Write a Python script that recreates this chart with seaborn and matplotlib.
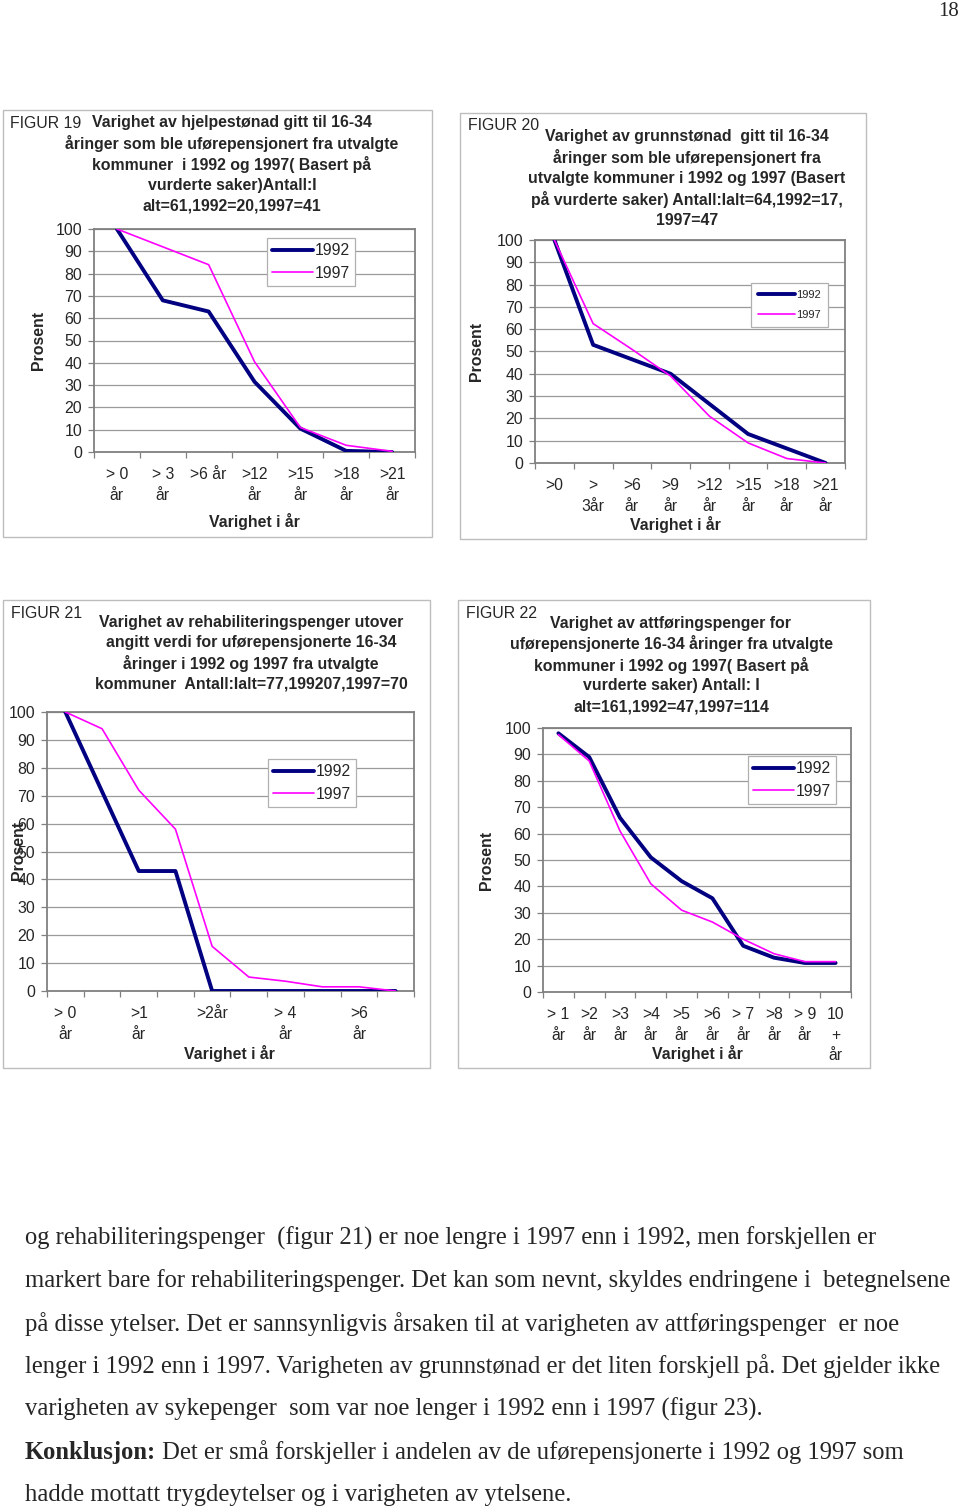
import matplotlib
matplotlib.use("Agg")
import matplotlib.pyplot as plt
from matplotlib.patches import Rectangle
import seaborn as sns
import pandas as pd

sns.set_theme(style="white")
plt.rcParams['font.family'] = ['Liberation Sans', 'DejaVu Sans']

W, H = 960, 1511

# ---------------- data ----------------
fig19_labels = ["> 0\når", "> 3\når", ">6 år", ">12\når", ">15\når", ">18\når", ">21\når"]
fig19_1992 = [100, 68, 63, 31.5, 10.5, 0.5, 0]
fig19_1997 = [100, 92, 84, 40.5, 11, 3, 0.3]

fig20_labels = [">0", ">\n3år", ">6\når", ">9\når", ">12\når", ">15\når", ">18\når", ">21\når"]
fig20_1992 = [100, 53, 46.5, 40, 26.5, 13, 6.5, 0]
fig20_1997 = [100, 62.5, 51, 39, 21, 9, 2, 0]

fig21_labels = ["> 0\når", "", ">1\når", "", ">2år", "", "> 4\når", "", ">6\når", ""]
fig21_1992 = [100, 71.5, 43, 43, 0, 0, 0, 0, 0, 0]
fig21_1997 = [100, 94, 72, 58, 16, 5, 3.5, 1.5, 1.5, 0]

fig22_labels = ["> 1\når", ">2\når", ">3\når", ">4\når", ">5\når", ">6\når", "> 7\når", ">8\når", "> 9\når", "10\n+\når"]
fig22_1992 = [98, 89, 66, 51, 42, 35.5, 17.5, 13, 11, 11]
fig22_1997 = [97.5, 87.5, 61, 41, 31, 26.5, 20, 14.5, 11.5, 11.5]

series_names = ["1992", "1997"]

fig19_title = ["Varighet av hjelpestønad gitt til 16-34",
               "åringer som ble uførepensjonert fra utvalgte",
               "kommuner  i 1992 og 1997( Basert på",
               "vurderte saker)Antall:I",
               "alt=61,1992=20,1997=41"]
fig20_title = ["Varighet av grunnstønad  gitt til 16-34",
               "åringer som ble uførepensjonert fra",
               "utvalgte kommuner i 1992 og 1997 (Basert",
               "på vurderte saker) Antall:Ialt=64,1992=17,",
               "1997=47"]
fig21_title = ["Varighet av rehabiliteringspenger utover",
               "angitt verdi for uførepensjonerte 16-34",
               "åringer i 1992 og 1997 fra utvalgte",
               "kommuner  Antall:Ialt=77,199207,1997=70"]
fig22_title = ["Varighet av attføringspenger for",
               "uførepensjonerte 16-34 åringer fra utvalgte",
               "kommuner i 1992 og 1997( Basert på",
               "vurderte saker) Antall: I",
               "alt=161,1992=47,1997=114"]

body_lines = [
    "og rehabiliteringspenger  (figur 21) er noe lengre i 1997 enn i 1992, men forskjellen er",
    "markert bare for rehabiliteringspenger. Det kan som nevnt, skyldes endringene i  betegnelsene",
    "på disse ytelser. Det er sannsynligvis årsaken til at varigheten av attføringspenger  er noe",
    "lenger i 1992 enn i 1997. Varigheten av grunnstønad er det liten forskjell på. Det gjelder ikke",
    "varigheten av sykepenger  som var noe lenger i 1992 enn i 1997 (figur 23).",
]
concl_bold = "Konklusjon:"
concl_rest = " Det er små forskjeller i andelen av de uførepensjonerte i 1992 og 1997 som"
last_line = "hadde mottatt trygdeytelser og i varigheten av ytelsene."

C92 = "#000080"
C97 = "#FF00FF"

fig = plt.figure(figsize=(W / 100, H / 100), dpi=100)
fig.patch.set_facecolor("white")


def fx(x):
    return x / W


def fy(y):
    return 1 - y / H


def box(x0, y0, x1, y1):
    fig.add_artist(Rectangle((fx(x0), fy(y1)), (x1 - x0) / W, (y1 - y0) / H,
                             transform=fig.transFigure, fill=False,
                             edgecolor="#bdbdbd", lw=1.0))


def chart(ax_px, labels, v92, v97, figlabel, figlabel_xy, title, title_cx, title_y0,
          title_dy, ylabel_xy, xlabel_xy, legend_xy, legend_fs, tick_every=1, lsp=1.45,
          leg_hl=2.6, leg_ls=0.45, leg_bp=0.35):
    x0, y0, x1, y1 = ax_px
    ax = fig.add_axes([fx(x0), fy(y1), (x1 - x0) / W, (y1 - y0) / H])
    n = len(labels)
    pos = list(range(n))
    df92 = pd.DataFrame({"pos": pos, "val": v92})
    df97 = pd.DataFrame({"pos": pos, "val": v97})
    sns.lineplot(data=df92, x="pos", y="val", ax=ax, color=C92, lw=2.8,
                 label=series_names[0], zorder=3)
    sns.lineplot(data=df97, x="pos", y="val", ax=ax, color=C97, lw=1.2,
                 label=series_names[1], zorder=4)
    ax.set_xlim(-0.5, n - 0.5)
    ax.set_ylim(0, 100)
    ax.set_yticks(range(0, 101, 10))
    ax.yaxis.grid(True, color="#9a9a9a", lw=0.9)
    ax.set_axisbelow(True)
    major = [p for p in pos if p % tick_every == 0]
    ax.set_xticks(major)
    ax.set_xticklabels([labels[p] for p in major])
    ax.set_xticks([p - 0.5 for p in range(n + 1)], minor=True)
    ax.tick_params(axis="x", which="major", length=0, pad=11, labelsize=11.3)
    ax.tick_params(axis="x", which="minor", length=4, width=0.9, color="#808080",
                   direction="out", bottom=True)
    ax.tick_params(axis="y", which="major", length=4, width=0.9, color="#808080",
                   direction="out", left=True, pad=4.5, labelsize=11.4)
    for lbl in ax.get_xticklabels():
        lbl.set_linespacing(lsp)
    for s in ax.spines.values():
        s.set_color("#808080")
        s.set_linewidth(1.3)
    ax.set_xlabel("")
    ax.set_ylabel("")
    leg = ax.legend(loc="upper left", bbox_to_anchor=(fx(legend_xy[0]), fy(legend_xy[1])),
                    bbox_transform=fig.transFigure, fontsize=legend_fs, frameon=True,
                    fancybox=False, edgecolor="#b0b0b0", framealpha=1, borderaxespad=0,
                    handlelength=leg_hl, handletextpad=0.1, borderpad=leg_bp,
                    labelspacing=leg_ls)
    leg.get_frame().set_linewidth(0.9)
    fig.text(fx(figlabel_xy[0]), fy(figlabel_xy[1]), figlabel, fontsize=11.4,
             ha="left", va="center")
    for i, line in enumerate(title):
        fig.text(fx(title_cx), fy(title_y0 + i * title_dy), line, fontsize=11.45,
                 fontweight="bold", ha="center", va="center")
    fig.text(fx(ylabel_xy[0]), fy(ylabel_xy[1]), "Prosent", fontsize=11.4,
             fontweight="bold", rotation=90, ha="center", va="center")
    fig.text(fx(xlabel_xy[0]), fy(xlabel_xy[1]), "Varighet i år", fontsize=11.4,
             fontweight="bold", ha="center", va="center")
    return ax


# boxes
box(3, 110, 432, 537)
box(460, 113, 866, 539)
box(3, 600, 430, 1068)
box(458, 600, 870, 1068)

chart((94, 229, 415, 452), fig19_labels, fig19_1992, fig19_1997,
      "FIGUR 19", (10, 123), fig19_title, 232, 123, 20.7,
      (38, 340), (254, 521), (267, 238), 11.3)
chart((535, 240, 845, 463), fig20_labels, fig20_1992, fig20_1997,
      "FIGUR 20", (468, 126), fig20_title, 687, 137, 20.8,
      (477, 351), (675, 524), (751, 283), 8, leg_hl=3.4, leg_ls=0.95, leg_bp=0.6)
chart((47, 712, 414, 991), fig21_labels, fig21_1992, fig21_1997,
      "FIGUR 21", (11, 613), fig21_title, 251, 622, 20.7,
      (18, 850), (229, 1053), (268, 759), 11.3, tick_every=2)
chart((543, 728, 851, 992), fig22_labels, fig22_1992, fig22_1997,
      "FIGUR 22", (466, 613), fig22_title, 671, 623, 21,
      (487, 860), (697, 1053), (748, 756), 11.3)

# page number
fig.text(fx(949), fy(11), "18", fontsize=15, family="Liberation Serif",
         ha="center", va="center")

# body text
serif = "Liberation Serif"
fs_body = 17.7
y0 = 1238
dy = 42.8
for i, line in enumerate(body_lines):
    fig.text(fx(25), fy(y0 + i * dy), line, fontsize=fs_body, family=serif,
             ha="left", va="center")
yk = y0 + 5 * dy
tb = fig.text(fx(25), fy(yk), concl_bold, fontsize=fs_body, family=serif,
              fontweight="bold", ha="left", va="center")
r = fig.canvas.get_renderer()
bb = tb.get_window_extent(renderer=r)
fig.text(bb.x1 / W, fy(yk), concl_rest, fontsize=fs_body, family=serif,
         ha="left", va="center")
fig.text(fx(25), fy(yk + dy), last_line, fontsize=fs_body, family=serif,
         ha="left", va="center")

fig.savefig("out.png", dpi=100, facecolor="white")
